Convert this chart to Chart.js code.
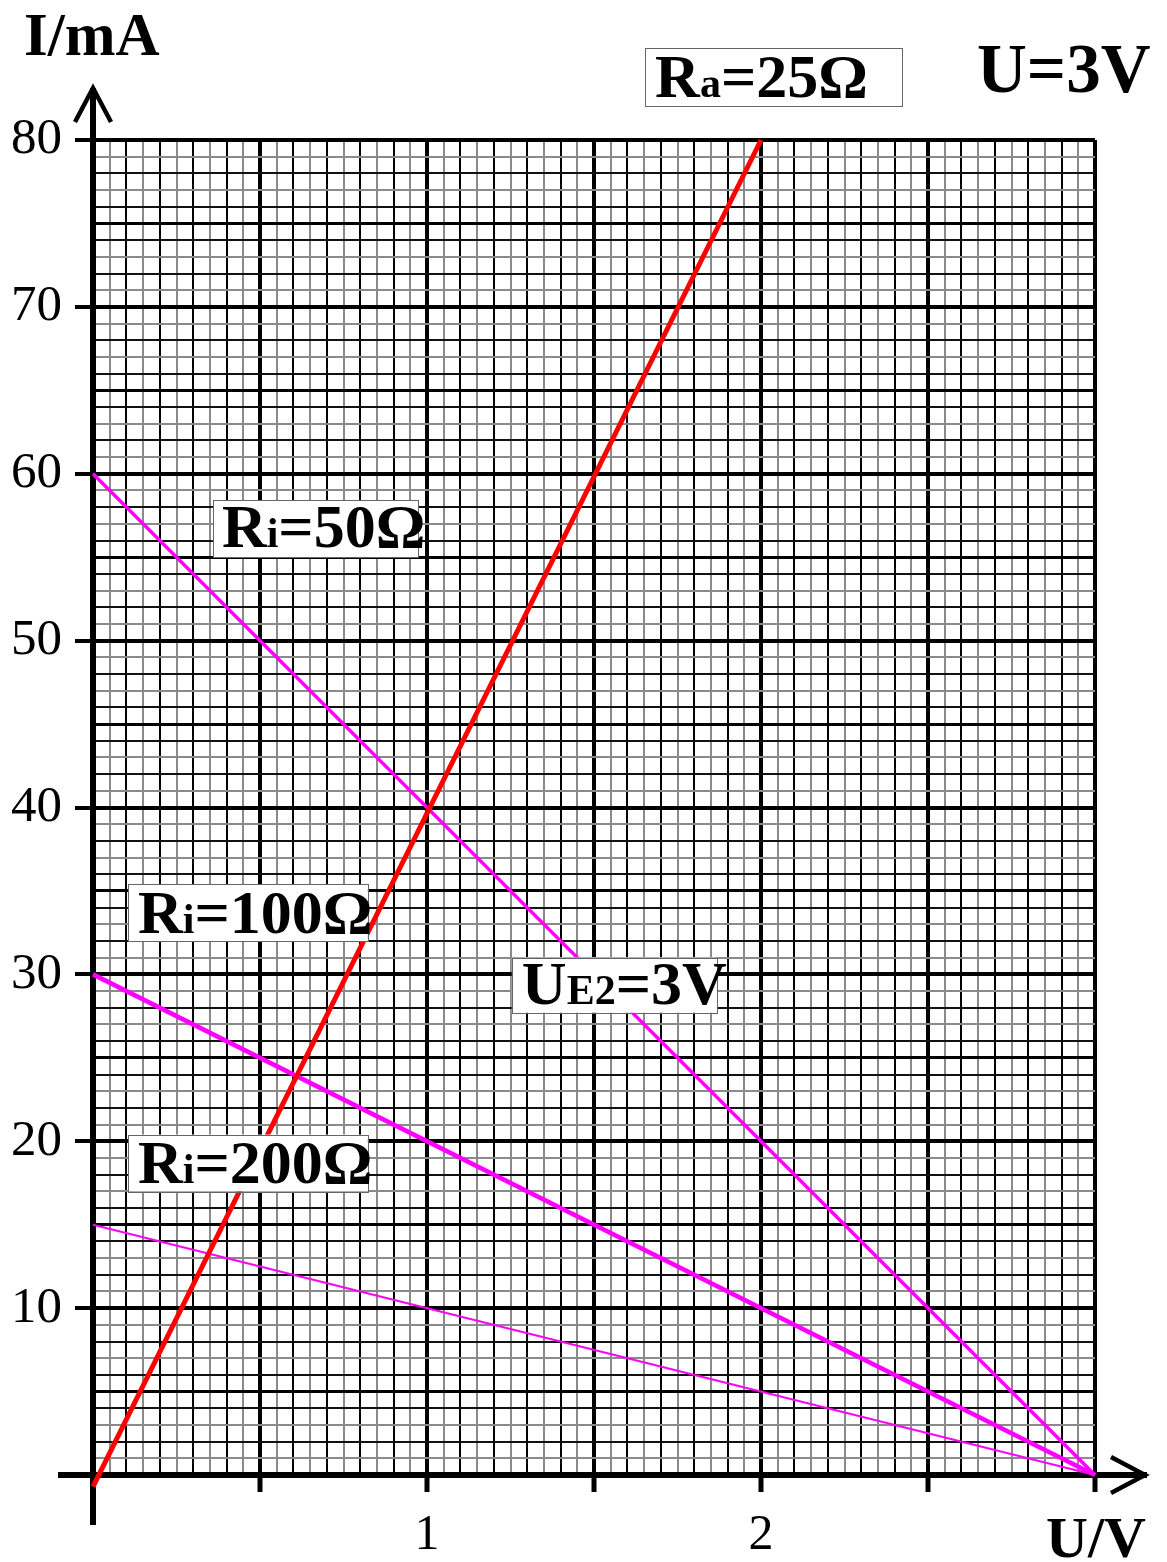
<!DOCTYPE html>
<html>
<head>
<meta charset="utf-8">
<script src="https://cdn.jsdelivr.net/npm/chart.js@4.4.1/dist/chart.umd.min.js"></script>
<style>
  html, body { margin: 0; padding: 0; background: #fff; }
  canvas { display: block; }
</style>
</head>
<body>
<canvas id="myChart" width="1167" height="1562"></canvas>
<script>
// values (U in V, I in mA)
const voltsRa = [0, 2];
const currentRa = [-0.7, 80];
const voltsRi = [0, 3];
const currentRi50 = [60, 0];
const currentRi100 = [30, 0];
const currentRi200 = [15, 0];
const yTickLabels = [10, 20, 30, 40, 50, 60, 70, 80];
const xTickLabels = [1, 2];

const toPoints = (xs, ys) => xs.map((x, i) => ({ x: x, y: ys[i] }));

const serif = "'Liberation Serif', 'Times New Roman', serif";

// boxed labels, placed in data units: box [x0, x1, yTop, yBottom], text start x, baseline y
const boxLabels = [
  { parts: [['R', 0], ['a', 1], ['=25\u03A9', 0]], box: [1.653, 2.422, 85.5, 82.0], tx: 1.683, ty: 82.6 },
  { parts: [['R', 0], ['i', 1], ['=50\u03A9', 0]], box: [0.359, 0.973, 58.4, 55.0], tx: 0.386, ty: 55.6 },
  { parts: [['R', 0], ['i', 1], ['=100\u03A9', 0]], box: [0.105, 0.823, 35.4, 32.0], tx: 0.135, ty: 32.5 },
  { parts: [['R', 0], ['i', 1], ['=200\u03A9', 0]], box: [0.105, 0.823, 20.4, 17.0], tx: 0.135, ty: 17.5 },
  { parts: [['U', 0], ['E2', 1], ['=3V', 0]], box: [1.254, 1.868, 31.0, 27.7], tx: 1.284, ty: 28.2 }
];

function drawParts(ctx, parts, x, y, mainSize, subSize) {
  parts.forEach(p => {
    ctx.font = 'bold ' + (p[1] ? subSize : mainSize) + 'px ' + serif;
    ctx.fillText(p[0], x, y);
    x += ctx.measureText(p[0]).width;
  });
}

const axesPlugin = {
  id: 'axesPlugin',
  beforeDatasetsDraw(chart) {
    const ctx = chart.ctx;
    const xs = chart.scales.x, ys = chart.scales.y;
    const x0 = xs.getPixelForValue(0), y0 = ys.getPixelForValue(0);
    const xEnd = xs.getPixelForValue(3), yTop = ys.getPixelForValue(80);
    ctx.save();
    ctx.strokeStyle = '#000';
    ctx.lineWidth = 6;
    ctx.lineCap = 'butt';
    ctx.beginPath();
    ctx.moveTo(58, y0);
    ctx.lineTo(xEnd + 52, y0);
    ctx.moveTo(x0, y0 + 50);
    ctx.lineTo(x0, yTop - 52);
    ctx.stroke();
    // arrow heads
    ctx.lineWidth = 4.5;
    ctx.lineJoin = 'miter';
    ctx.beginPath();
    ctx.moveTo(x0 - 18, yTop - 18);
    ctx.lineTo(x0, yTop - 52);
    ctx.lineTo(x0 + 18, yTop - 18);
    ctx.moveTo(xEnd + 16, y0 - 18);
    ctx.lineTo(xEnd + 50, y0);
    ctx.lineTo(xEnd + 16, y0 + 18);
    ctx.stroke();
    ctx.restore();
  },
  afterDatasetsDraw(chart) {
    const ctx = chart.ctx;
    const xs = chart.scales.x, ys = chart.scales.y;
    ctx.save();
    ctx.textBaseline = 'alphabetic';
    ctx.fillStyle = '#000';
    boxLabels.forEach(l => {
      const bx0 = xs.getPixelForValue(l.box[0]), bx1 = xs.getPixelForValue(l.box[1]);
      const by0 = ys.getPixelForValue(l.box[2]), by1 = ys.getPixelForValue(l.box[3]);
      ctx.fillStyle = '#fff';
      ctx.fillRect(bx0, by0, bx1 - bx0, by1 - by0);
      ctx.strokeStyle = '#666';
      ctx.lineWidth = 1;
      ctx.strokeRect(Math.round(bx0) + 0.5, Math.round(by0) + 0.5, Math.round(bx1 - bx0), Math.round(by1 - by0));
      ctx.fillStyle = '#000';
      drawParts(ctx, l.parts, xs.getPixelForValue(l.tx), ys.getPixelForValue(l.ty), 62, 42);
    });
    // axis titles
    ctx.font = 'bold 61px ' + serif;
    ctx.fillText('I/mA', 24, 55);
    ctx.font = 'bold 69px ' + serif;
    ctx.fillText('U=3V', 977, 92);
    ctx.font = 'bold 58px ' + serif;
    ctx.fillText('U/V', 1046, 1557);
    ctx.restore();
  }
};

const r2 = v => Math.round(v * 100) / 100;

function xGridColor(c) {
  if (!c.tick) return '#000';
  const v = Math.round(c.tick.value * 20);
  return v % 2 === 0 ? '#000' : '#8a8a8a';
}
function xGridWidth(c) {
  if (!c.tick) return 1;
  const v = Math.round(c.tick.value * 20);
  if (v % 10 === 0) return 4;
  return 2;
}
function yGridColor(c) {
  if (!c.tick) return '#000';
  const v = Math.round(c.tick.value);
  if (v % 5 === 0) return '#000';
  return v % 2 === 0 ? '#111' : '#8a8a8a';
}
function yGridWidth(c) {
  if (!c.tick) return 1;
  const v = Math.round(c.tick.value);
  if (v % 10 === 0) return 4;
  if (v % 5 === 0) return 3;
  return 2;
}

new Chart(document.getElementById('myChart').getContext('2d'), {
  type: 'line',
  data: {
    datasets: [
      { label: 'Ra=25', data: toPoints(voltsRa, currentRa), borderColor: '#ff0000', borderWidth: 5, clip: false },
      { label: 'Ri=50', data: toPoints(voltsRi, currentRi50), borderColor: '#ff00ff', borderWidth: 3.5, clip: false },
      { label: 'Ri=100', data: toPoints(voltsRi, currentRi100), borderColor: '#ff00ff', borderWidth: 4.5, clip: false },
      { label: 'Ri=200', data: toPoints(voltsRi, currentRi200), borderColor: '#ff00ff', borderWidth: 2, clip: false }
    ]
  },
  options: {
    responsive: false,
    animation: false,
    devicePixelRatio: 1,
    elements: { point: { radius: 0 }, line: { tension: 0, fill: false } },
    layout: { padding: { top: 140, right: 72, left: 0, bottom: 0 } },
    plugins: { legend: { display: false }, tooltip: { enabled: false } },
    scales: {
      x: {
        type: 'linear',
        min: 0, max: 3,
        afterFit: s => { s.height = 87; },
        border: { display: false },
        grid: {
          color: xGridColor,
          lineWidth: xGridWidth,
          drawTicks: true,
          tickLength: 17,
          tickColor: c => (c.tick && Math.round(c.tick.value * 20) % 10 === 0 && c.tick.value > 0) ? '#000' : 'rgba(0,0,0,0)',
          tickWidth: 5
        },
        ticks: {
          stepSize: 0.05,
          autoSkip: false,
          maxRotation: 0,
          padding: 14,
          color: '#000',
          font: { family: serif, size: 50 },
          callback: v => xTickLabels.includes(r2(v)) ? String(r2(v)) : ''
        }
      },
      y: {
        type: 'linear',
        min: 0, max: 80,
        afterFit: s => { s.width = 93; },
        border: { display: false },
        grid: {
          color: yGridColor,
          lineWidth: yGridWidth,
          drawTicks: true,
          tickLength: 18,
          tickColor: c => (c.tick && Math.round(c.tick.value) % 10 === 0) ? '#000' : 'rgba(0,0,0,0)',
          tickWidth: 4
        },
        ticks: {
          stepSize: 1,
          autoSkip: false,
          padding: 13,
          color: '#000',
          font: { family: serif, size: 51 },
          callback: v => yTickLabels.includes(Math.round(v)) ? String(Math.round(v)) : ''
        }
      }
    }
  },
  plugins: [axesPlugin]
});
</script>
</body>
</html>
